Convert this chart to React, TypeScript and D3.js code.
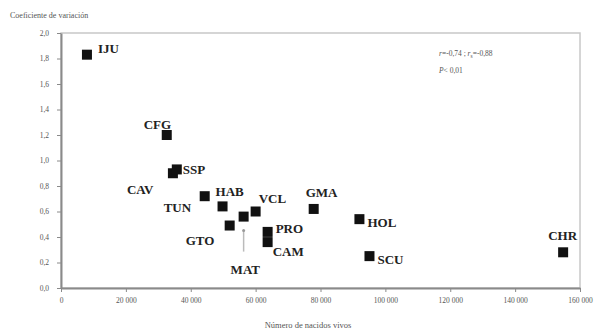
import React from 'react';
import * as d3 from 'd3';

// provinces and municipalities (labels as printed)
const places = ['IJU', 'CFG', 'CAV', 'SSP', 'TUN', 'HAB', 'GTO', 'MAT', 'VCL', 'PRO', 'CAM', 'GMA', 'HOL', 'SCU', 'CHR'];
const births = [8000, 32600, 34500, 35700, 44300, 49800, 52000, 56300, 60000, 63700, 63700, 77900, 92000, 95100, 154800];
const cv = [1.83, 1.2, 0.9, 0.93, 0.72, 0.64, 0.49, 0.56, 0.6, 0.44, 0.36, 0.62, 0.54, 0.25, 0.28];

const xTicks = [0, 20000, 40000, 60000, 80000, 100000, 120000, 140000, 160000];
const yTicks = [0, 0.2, 0.4, 0.6, 0.8, 1.0, 1.2, 1.4, 1.6, 1.8, 2.0];

// label placement relative to the point (px)
const labelOffsets = {
  IJU: [11, -2], CFG: [-23, -6], CAV: [-46, 21], SSP: [6, 5], TUN: [-41, 16],
  HAB: [-7, -10], GTO: [-44, 19], MAT: [-13, 57], VCL: [3, -9], PRO: [8, 1],
  CAM: [5, 14], GMA: [-8, -12], HOL: [8, 8], SCU: [8, 8], CHR: [-15, -12],
};

const fmtX = (d: number) => (d === 0 ? '0' : d3.format(',')(d).replace(',', ' '));
const fmtY = (d: number) => d.toFixed(1).replace('.', ',');

export default function App() {
  const ref = React.useRef<SVGSVGElement>(null);

  React.useEffect(() => {
    const svg = d3.select(ref.current);
    svg.selectAll('*').remove();
    const width = 595;
    const height = 331;
    const margin = { top: 33, right: 15, bottom: 43, left: 61 };

    const x = d3.scaleLinear().domain([0, 160000]).range([margin.left, width - margin.right]);
    const y = d3.scaleLinear().domain([0, 2]).range([height - margin.bottom, margin.top]);

    const axisColor = '#8a8a8a';
    const serif = '"Liberation Serif", "Times New Roman", serif';

    // frame
    svg.append('rect')
      .attr('x', x(0)).attr('y', y(2))
      .attr('width', x(160000) - x(0)).attr('height', y(0) - y(2))
      .attr('fill', 'none').attr('stroke', '#c8c8c8').attr('stroke-width', 1.5);

    const gx = svg.append('g')
      .attr('transform', `translate(0,${y(0)})`)
      .call(d3.axisBottom(x).tickValues(xTicks).tickFormat(fmtX as any).tickSize(4).tickSizeOuter(0));
    const gy = svg.append('g')
      .attr('transform', `translate(${x(0)},0)`)
      .call(d3.axisLeft(y).tickValues(yTicks).tickFormat(fmtY as any).tickSize(4).tickSizeOuter(0));

    [gx, gy].forEach(g => {
      g.select('.domain').attr('stroke', axisColor).attr('stroke-width', 2);
      g.selectAll('.tick line').attr('stroke', axisColor).attr('stroke-width', 1);
      g.selectAll('.tick text')
        .attr('fill', '#555').attr('font-family', serif).attr('font-size', 7.5);
    });
    gx.selectAll('.tick text').attr('dy', '1.1em');
    gy.selectAll('.tick text').attr('x', -12);

    // MAT marker line
    const mi = places.indexOf('MAT');
    svg.append('line')
      .attr('x1', x(births[mi])).attr('x2', x(births[mi]))
      .attr('y1', y(cv[mi]) + 14).attr('y2', y(cv[mi]) + 35)
      .attr('stroke', '#bbb').attr('stroke-width', 1.5);
    svg.append('circle')
      .attr('cx', x(births[mi])).attr('cy', y(cv[mi]) + 14).attr('r', 1.5).attr('fill', '#999');

    const idx = d3.range(places.length);
    svg.selectAll('.pt')
      .data(idx)
      .enter().append('rect')
      .attr('class', 'pt')
      .attr('x', i => x(births[i]) - 5)
      .attr('y', i => y(cv[i]) - 5)
      .attr('width', 10).attr('height', 10)
      .attr('fill', '#111');

    svg.selectAll('.lbl')
      .data(idx)
      .enter().append('text')
      .attr('class', 'lbl')
      .attr('x', i => x(births[i]) + labelOffsets[places[i]][0])
      .attr('y', i => y(cv[i]) + labelOffsets[places[i]][1])
      .attr('font-family', serif).attr('font-weight', 'bold').attr('font-size', 13)
      .attr('fill', '#222')
      .text(i => places[i]);

    // correlation note
    const note = svg.append('text')
      .attr('x', 439).attr('y', 56)
      .attr('font-family', serif).attr('font-size', 7.5).attr('fill', '#555');
    note.append('tspan').attr('font-style', 'italic').text('r');
    note.append('tspan').text('=-0,74 ; ');
    note.append('tspan').attr('font-style', 'italic').text('r');
    note.append('tspan').attr('font-size', 5.5).attr('dy', 2).text('s');
    note.append('tspan').attr('dy', -2).text('=-0,88');
    const p = svg.append('text')
      .attr('x', 439).attr('y', 73)
      .attr('font-family', serif).attr('font-size', 7.5).attr('fill', '#555');
    p.append('tspan').attr('font-style', 'italic').text('P');
    p.append('tspan').text('< 0,01');

    svg.append('text')
      .attr('x', 10).attr('y', 18)
      .attr('font-family', serif).attr('font-size', 8).attr('fill', '#555')
      .text('Coeficiente de variación');
    svg.append('text')
      .attr('x', 308).attr('y', 328)
      .attr('text-anchor', 'middle')
      .attr('font-family', serif).attr('font-size', 8.5).attr('fill', '#555')
      .text('Número de nacidos vivos');
  }, []);

  return (
    <div style={{ position: 'absolute', left: 0, top: 0 }}>
      <svg ref={ref} width={595} height={331} style={{ display: 'block', background: '#fff' }} />
    </div>
  );
}
